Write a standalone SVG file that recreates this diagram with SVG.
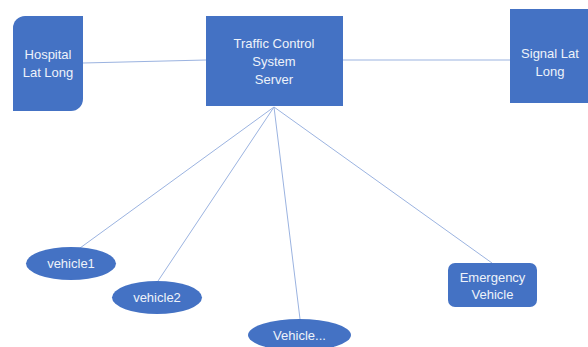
<svg xmlns="http://www.w3.org/2000/svg" width="588" height="347" viewBox="0 0 588 347">
<style>
.n{fill:#4472C4;}
.t{fill:#EEF2FA;font-family:"Liberation Sans",Arial,sans-serif;font-size:13px;text-anchor:middle;}
.c line{stroke:#9BB3E0;stroke-width:1;}
</style>
<rect width="588" height="347" fill="#ffffff"/>
<g class="c" id="connectors">
<line x1="83" y1="63" x2="206" y2="60"/>
<line x1="343" y1="60" x2="510" y2="60"/>
<line x1="274" y1="107" x2="80" y2="248"/>
<line x1="274" y1="107" x2="158" y2="281"/>
<line x1="274" y1="107" x2="300" y2="319"/>
<line x1="274" y1="107" x2="492" y2="263"/>
</g>
<g id="hospital">
<path class="n" d="M25,16 H83 V99 A12,12 0 0 1 71,111 H13 V28 A12,12 0 0 1 25,16 Z"/>
<text class="t" x="48" y="59">Hospital</text>
<text class="t" x="48" y="77">Lat Long</text>
</g>
<g id="server">
<rect class="n" x="206" y="16" width="137" height="90"/>
<text class="t" x="274" y="48">Traffic Control</text>
<text class="t" x="274" y="66">System</text>
<text class="t" x="274" y="84">Server</text>
</g>
<g id="signal">
<rect class="n" x="510" y="9" width="80" height="94"/>
<text class="t" x="550" y="58">Signal Lat</text>
<text class="t" x="550" y="76">Long</text>
</g>
<g id="vehicle1">
<ellipse class="n" cx="71" cy="263.5" rx="45" ry="16.5"/>
<text class="t" x="71" y="268">vehicle1</text>
</g>
<g id="vehicle2">
<ellipse class="n" cx="157" cy="297.5" rx="45" ry="16.5"/>
<text class="t" x="157" y="302">vehicle2</text>
</g>
<g id="vehicle3">
<ellipse class="n" cx="299.5" cy="335" rx="51.5" ry="16"/>
<text class="t" x="299.5" y="340">Vehicle...</text>
</g>
<g id="emergency">
<rect class="n" x="448" y="263" width="89" height="44" rx="7" ry="7"/>
<text class="t" x="492.5" y="282">Emergency</text>
<text class="t" x="492.5" y="299">Vehicle</text>
</g>
</svg>
